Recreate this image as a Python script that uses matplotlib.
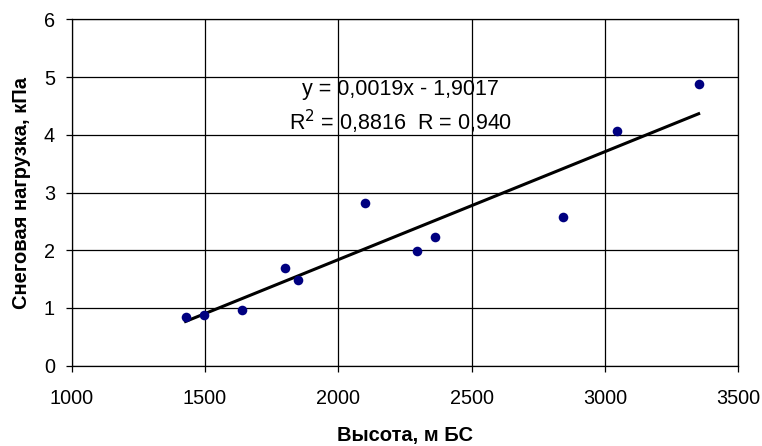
import numpy as np
import matplotlib
matplotlib.use('Agg')
import matplotlib.pyplot as plt

plt.rcParams['font.family'] = ['Liberation Sans', 'DejaVu Sans']

# altitude (m) vs snow load (kPa)
altitude = [1427, 1496, 1638, 1800, 1849, 2098, 2295, 2364, 2842, 3046, 3351]
snow_load = [0.85, 0.88, 0.96, 1.69, 1.48, 2.81, 1.98, 2.23, 2.58, 4.07, 4.88]

# linear trend and its stats
slope = 0.00187
intercept = -1.9017
r_squared = 0.8816
r_value = 0.940

x_ticks = [1000, 1500, 2000, 2500, 3000, 3500]
y_ticks = [0, 1, 2, 3, 4, 5, 6]


def comma(v, nd):
    return f"{v:.{nd}f}".replace('.', ',')


fig = plt.figure(figsize=(7.62, 4.46), dpi=100)
ax = fig.add_axes([0.0941, 0.180, 0.8749, 0.7767])

ax.scatter(altitude, snow_load, s=48, color='#000080', zorder=3, linewidths=0)

xs = np.array([min(altitude), max(altitude)])
ax.plot(xs, slope * xs + intercept, color='black', lw=2.2, zorder=2)

ax.set_xlim(1000, 3500)
ax.set_ylim(0, 6)
ax.set_xticks(x_ticks)
ax.set_yticks(y_ticks)
ax.grid(True, color='black', lw=0.9)
ax.set_axisbelow(True)
for s in ax.spines.values():
    s.set_linewidth(0.9)
ax.tick_params(axis='x', direction='out', length=4, width=0.9, pad=13, labelsize=14.3)
ax.tick_params(axis='y', direction='out', length=4, width=0.9, pad=8, labelsize=14.3)

ax.set_xlabel('Высота, м БС', fontsize=14.5, fontweight='bold', labelpad=13)
ax.set_ylabel('Снеговая нагрузка, кПа', fontsize=14.5, fontweight='bold', labelpad=9)

eq = f"y = {comma(slope, 4)}x - {comma(-intercept, 4)}"
stats = f"R$^2$ = {comma(r_squared, 4)}  R = {comma(r_value, 3)}"
ax.text(2234, 4.78, eq, fontsize=15.5, ha='center', va='center')
ax.text(2234, 4.22, stats, fontsize=15.5, ha='center', va='center')

fig.savefig('out.png', dpi=100)
